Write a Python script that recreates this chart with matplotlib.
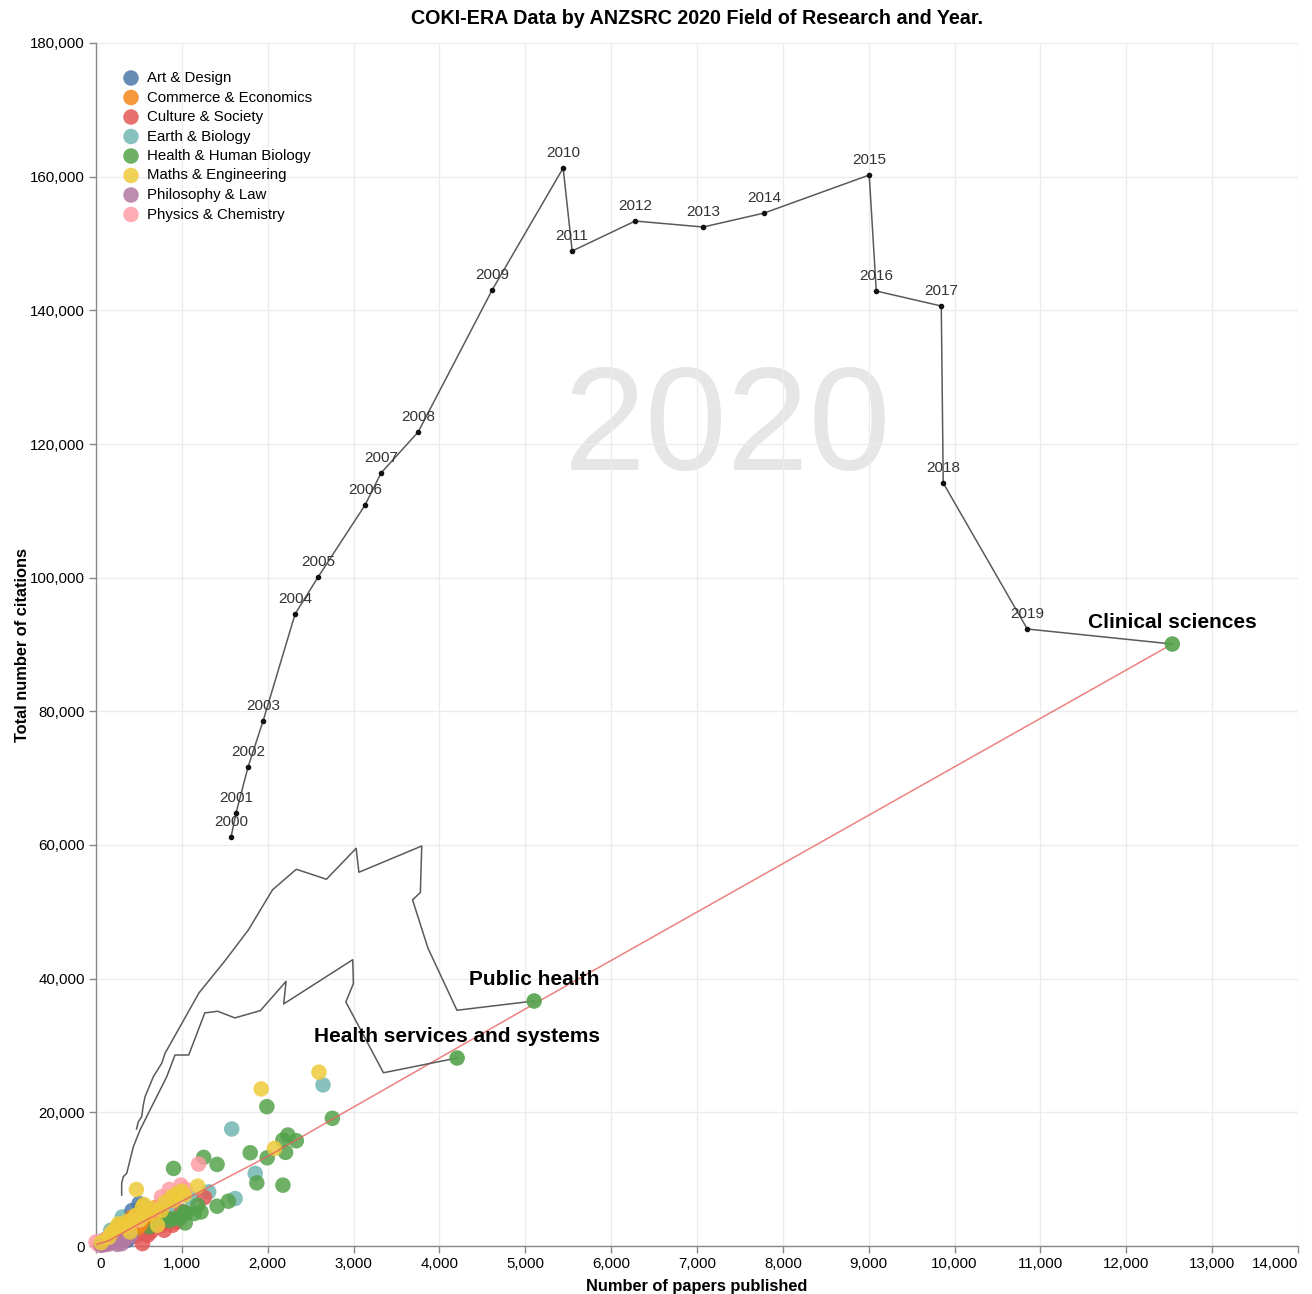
import matplotlib
matplotlib.use("Agg")
import matplotlib.pyplot as plt
from matplotlib.ticker import FuncFormatter

plt.rcParams['font.family'] = ['Liberation Sans', 'DejaVu Sans']

# ---------------- data ----------------
categories = ["Art & Design", "Commerce & Economics", "Culture & Society", "Earth & Biology",
              "Health & Human Biology", "Maths & Engineering", "Philosophy & Law", "Physics & Chemistry"]
colors = ["#4c78a8", "#f58518", "#e45756", "#72b7b2", "#54a24b", "#eeca3b", "#b279a2", "#ff9da6"]

x_ticks = [0, 1000, 2000, 3000, 4000, 5000, 6000, 7000, 8000, 9000, 10000, 11000, 12000, 13000, 14000]
y_ticks = [0, 20000, 40000, 60000, 80000, 100000, 120000, 140000, 160000, 180000]

art_x = [502, 366, 420, 200, 150, 300, 80, 640, 470, 260, 540]
art_y = [6360, 855, 5300, 1500, 800, 2200, 300, 5500, 4600, 1900, 6000]

com_x = [678, 347, 450, 250, 560, 120, 300, 700, 380, 520, 420, 610, 480, 330]
com_y = [5100, 3105, 3600, 2000, 4200, 1000, 2600, 5800, 2200, 3200, 4300, 4600, 2700, 1600]

cul_x = [1262, 794, 891, 639, 541, 482, 697, 300, 400, 200, 550, 850, 1000, 130, 600, 350, 750, 460, 930]
cul_y = [7260, 2355, 3105, 2100, 360, 2850, 3855, 1200, 1900, 700, 2800, 4000, 5200, 400, 1600, 900, 3000, 1500, 3600]

ear_x = [2644, 1581, 1854, 1620, 1312, 307, 172, 700, 420, 250, 90, 560, 1100, 850, 380]
ear_y = [24105, 17505, 10860, 7110, 8100, 4350, 2355, 4600, 4200, 2800, 900, 5200, 7200, 6000, 3800]

hea_x = [2753, 1990, 2235, 2177, 2333, 1796, 2208, 1994, 1254, 1410, 903, 1873, 2177, 1542, 1410,
         1184, 1048, 1039, 1145, 1223, 794, 911, 736, 1028, 850, 620, 450, 300, 520, 980]
hea_y = [19110, 20850, 16605, 15855, 15750, 13950, 14010, 13200, 13260, 12210, 11610, 9450, 9105, 6705, 5955,
         6105, 4950, 3450, 4860, 5100, 4350, 4110, 4110, 5100, 3800, 2900, 2500, 1800, 3300, 4200]

mat_x = [2597, 1924, 2079, 471, 1184, 880, 1028, 716, 541, 464, 289, 230, 397, 600, 650, 1000,
         350, 150, 60, 800, 520, 900, 420, 560, 180, 330, 260, 950, 760]
mat_y = [26010, 23505, 14610, 8460, 8955, 7350, 7605, 3105, 5850, 4605, 3105, 2610, 2100, 4800, 5600, 8200,
         3600, 1300, 500, 6500, 4000, 6800, 3900, 6200, 2000, 2900, 3300, 7900, 5300]

phi_x = [249, 300, 150, 200, 100, 350, 60, 400, 250]
phi_y = [600, 350, 300, 900, 200, 1100, 100, 1500, 250]

phy_x = [1195, 989, 763, 853, 502, 0, 60, 30, 100, 680, 150, 1040, 380, 250]
phy_y = [12255, 9105, 7350, 8460, 3855, 600, 300, 200, 900, 5400, 1200, 8500, 2400, 1600]

series_x = [art_x, com_x, cul_x, ear_x, hea_x, mat_x, phi_x, phy_x]
series_y = [art_y, com_y, cul_y, ear_y, hea_y, mat_y, phi_y, phy_y]
draw_order = [3, 2, 4, 0, 1, 7, 6, 5]

# highlighted fields (2020 values)
hl_names = ["Clinical sciences", "Public health", "Health services and systems"]
hl_x = [12536, 5103, 4206]
hl_y = [90072, 36658, 28129]

# Clinical sciences trajectory 2000-2019 (2020 = highlighted point)
years = list(range(2000, 2020))
clin_x = [1573, 1631, 1771, 1946, 2319, 2587, 3134, 3320, 3752, 4614,
          5441, 5546, 6280, 7072, 7783, 9006, 9088, 9845, 9868, 10847]
clin_y = [61195, 64787, 71670, 78552, 94562, 100098, 110870, 115658, 121793, 143039,
          161293, 148875, 153363, 152465, 154560, 160246, 142890, 140646, 114160, 92316]

# Public health trajectory
pub_x = [472, 493, 532, 551, 571, 668, 765, 804, 1199, 1497, 1776, 2055, 2333, 2684,
         3030, 3062, 3794, 3778, 3687, 3866, 4204]
pub_y = [17506, 18598, 19346, 21097, 22338, 25331, 27336, 28832, 37861, 42588, 47314, 53284, 56368, 54876,
         59503, 55920, 59851, 52886, 51791, 44578, 35274]

# Health services and systems trajectory
hss_x = [299, 299, 318, 358, 435, 513, 629, 707, 824, 920, 1080, 1267, 1418, 1617, 1915,
         2214, 2186, 2990, 2998, 2910, 3348]
hss_y = [7631, 9382, 10369, 10878, 14858, 17357, 20349, 22339, 25331, 28578, 28578, 34876, 35125, 34129, 35224,
         39602, 36219, 42836, 39254, 36518, 25921]

# trend line through 2020 values
trend_x = [0, 150, 500, 1000, 2000, 2770, 5100, 12536]
trend_y = [200, 800, 3300, 6700, 13400, 19100, 36200, 90072]

# ---------------- figure ----------------
fig = plt.figure(figsize=(13.12, 12.94), dpi=100)
ax = fig.add_axes([96/1312, 1 - 1246/1294, 1202/1312, 1203/1294])

ax.set_xlim(0, 14000)
ax.set_ylim(0, 180000)

# watermark
ax.text(0.525, 0.645, "2020", transform=ax.transAxes, fontsize=106, color="#e6e6e6",
        ha="center", va="baseline", zorder=0)

ax.grid(True, color="#ececec", lw=1, zorder=0)
ax.set_axisbelow(True)
for s in ["top", "right"]:
    ax.spines[s].set_visible(False)
for s in ["left", "bottom"]:
    ax.spines[s].set_color("#888888")
    ax.spines[s].set_linewidth(1)

ax.set_xticks(x_ticks)
ax.set_yticks(y_ticks)
ax.set_xticklabels([f"{v:,}" for v in x_ticks])
ax.yaxis.set_major_formatter(FuncFormatter(lambda v, p: f"{v:,.0f}"))
ax.tick_params(axis="both", colors="#888888", length=5, width=1, labelcolor="#000000",
               labelsize=10.8, pad=3)
xlabels = ax.get_xticklabels()
xlabels[0].set_horizontalalignment("left")
xlabels[-1].set_horizontalalignment("right")

# scatter
for i in draw_order:
    ax.scatter(series_x[i], series_y[i], s=125, color=colors[i], alpha=0.85,
               edgecolors="none", zorder=3, clip_on=False)

# trend line
ax.plot(trend_x, trend_y, color="#e8625f", lw=1.1, alpha=0.8, zorder=4)

# trajectories
ax.plot(pub_x + [hl_x[1]], pub_y + [hl_y[1]], color="#5a5a5a", lw=1.1, zorder=5)
ax.plot(hss_x + [hl_x[2]], hss_y + [hl_y[2]], color="#5a5a5a", lw=1.1, zorder=5)
ax.plot(clin_x + [hl_x[0]], clin_y + [hl_y[0]], color="#5a5a5a", lw=1.1, zorder=5)
ax.plot(clin_x, clin_y, "o", color="#111111", ms=3, zorder=6)
for yr, x, y in zip(years, clin_x, clin_y):
    ax.annotate(str(yr), (x, y), xytext=(0, 11), textcoords="offset points",
                ha="center", va="center", fontsize=11, color="#333333", zorder=7)

# highlighted points
ax.scatter(hl_x, hl_y, s=125, color=colors[4], alpha=0.9, edgecolors="none", zorder=6)
for name, x, y in zip(hl_names, hl_x, hl_y):
    ax.annotate(name, (x, y), xytext=(0, 15.5), textcoords="offset points",
                ha="center", va="center", fontsize=15, fontweight="bold", color="#000000", zorder=7)

# legend (manual)
lx_m, lx_t = (131 - 96) / 1202, (147 - 96) / 1202
ly0, dy = (1246 - 78) / 1203, 19.5 / 1203
for i, (name, c) in enumerate(zip(categories, colors)):
    yy = ly0 - i * dy
    ax.scatter([lx_m], [yy], s=125, color=c, alpha=0.85, edgecolors="none",
               transform=ax.transAxes, clip_on=False, zorder=8)
    ax.text(lx_t, yy, name, transform=ax.transAxes, fontsize=10.8, color="#000000",
            ha="left", va="center", zorder=8)

ax.set_xlabel("Number of papers published", fontsize=11.8, fontweight="bold", labelpad=6)
ax.set_ylabel("Total number of citations", fontsize=11.8, fontweight="bold", labelpad=0)
fig.text(697 / 1312, 1 - 18 / 1294, "COKI-ERA Data by ANZSRC 2020 Field of Research and Year.",
         ha="center", va="center", fontsize=14.2, fontweight="bold")

fig.savefig("out.png", dpi=100)
